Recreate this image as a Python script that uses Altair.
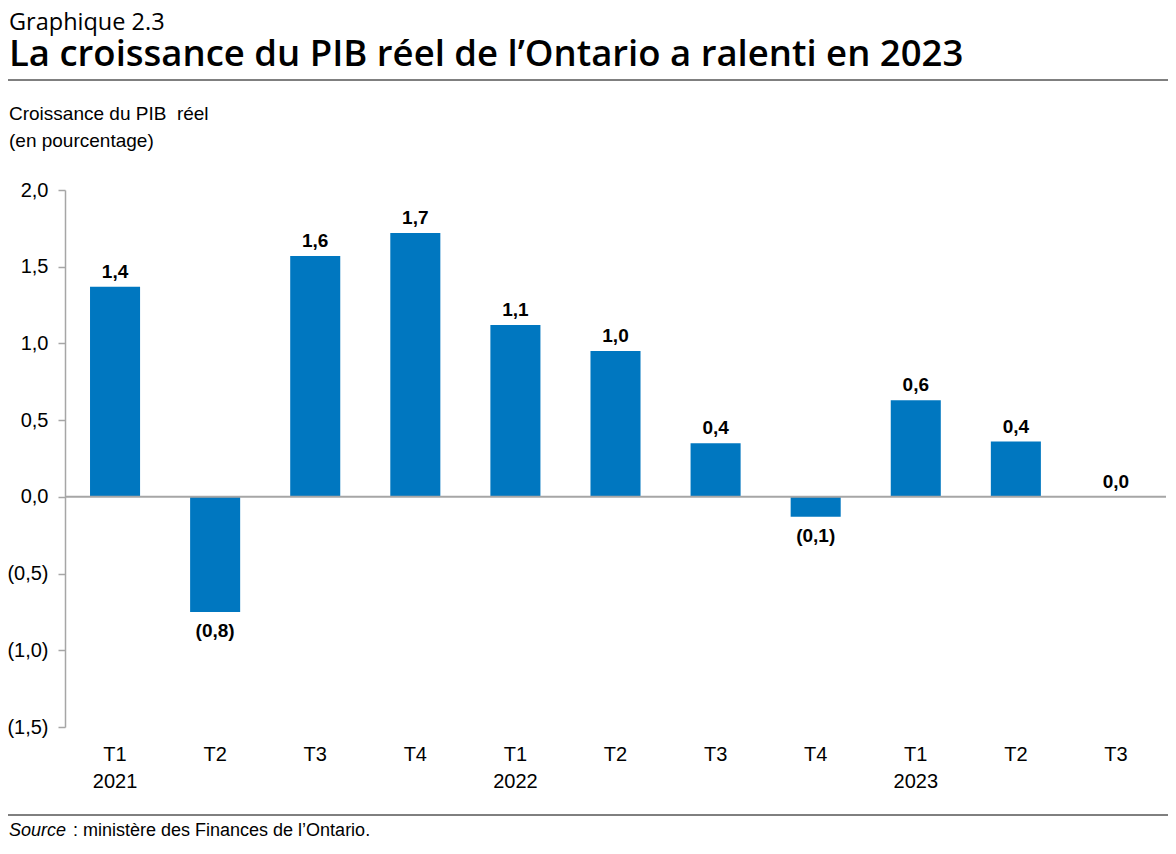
import altair as alt
import pandas as pd

quarters = ["T1", "T2", "T3", "T4", "T1", "T2", "T3", "T4", "T1", "T2", "T3"]
years = ["2021", "2021", "2021", "2021", "2022", "2022", "2022", "2022", "2023", "2023", "2023"]
values = [1.37, -0.75, 1.57, 1.72, 1.12, 0.95, 0.35, -0.13, 0.63, 0.36, 0.0]
labels = ["1,4", "(0,8)", "1,6", "1,7", "1,1", "1,0", "0,4", "(0,1)", "0,6", "0,4", "0,0"]

chart_label = "Graphique 2.3"
title_text = "La croissance du PIB réel de l’Ontario a ralenti en 2023"
y_title = ["Croissance du PIB\u00a0 réel", "(en pourcentage)"]
source_italic = "Source"
source_rest = ": ministère des Finances de l’Ontario."

df = pd.DataFrame({
    "key": [q + "|" + y for q, y in zip(quarters, years)],
    "value": values,
    "label": labels,
})

NARROW = "Liberation Sans Narrow, Arial Narrow, Liberation Sans, Arial, sans-serif"
TITLEF = "Open Sans, Lato, sans-serif"
GRAY = "#A6A6A6"
BLUE = "#0077C0"

x_enc = alt.X(
    "key:N", sort=None, title=None,
    scale=alt.Scale(paddingInner=0.5, paddingOuter=0.25),
    axis=alt.Axis(
        domain=False, ticks=False, labelAngle=0, labelPadding=17,
        labelFont=NARROW, labelFontSize=20, labelColor="#000000", labelLineHeight=27,
        labelExpr="indexof(datum.value, 'T1|') == 0 ? split(datum.value, '|') : split(datum.value, '|')[0]",
    ),
)
y_enc = alt.Y(
    "value:Q", title=None,
    scale=alt.Scale(domain=[-1.5, 2.0], nice=False, zero=False),
    axis=alt.Axis(
        values=[-1.5, -1.0, -0.5, 0.0, 0.5, 1.0, 1.5, 2.0], grid=False,
        domainColor=GRAY, domainWidth=1.5, tickColor=GRAY, tickWidth=1.5, tickSize=7,
        labelPadding=10, labelFont=NARROW, labelFontSize=20, labelColor="#000000",
        labelExpr="datum.value < 0 ? '(' + replace(format(-datum.value, '.1f'), '.', ',') + ')' : replace(format(datum.value, '.1f'), '.', ',')",
    ),
)

base = alt.Chart(df)
bars = base.mark_bar(color=BLUE).encode(x=x_enc, y=y_enc)
zero = alt.Chart(pd.DataFrame({"z": [0]})).mark_rule(color=GRAY, strokeWidth=2).encode(y=alt.Y("z:Q"))
pos_lbl = base.transform_filter("datum.value >= 0").mark_text(
    baseline="alphabetic", dy=-9, font=NARROW, fontSize=19, fontWeight="bold", color="#000000"
).encode(x=alt.X("key:N", sort=None), y="value:Q", text="label:N")
neg_lbl = base.transform_filter("datum.value < 0").mark_text(
    baseline="top", dy=10, font=NARROW, fontSize=19, fontWeight="bold", color="#000000"
).encode(x=alt.X("key:N", sort=None), y="value:Q", text="label:N")


def note(text, x, y, size, font, weight="normal", style="normal"):
    return alt.Chart(pd.DataFrame({"t": [text]})).mark_text(
        align="left", baseline="alphabetic", font=font, fontSize=size,
        fontWeight=weight, fontStyle=style, color="#000000",
    ).encode(x=alt.value(x), y=alt.value(y), text="t:N")


def hrule(y):
    return alt.Chart(pd.DataFrame({"r": [0]})).mark_rule(color="#000000", strokeWidth=1).encode(
        x=alt.value(-65), x2=alt.value(1111), y=alt.value(y)
    )


layers = [
    bars, zero, pos_lbl, neg_lbl,
    note(chart_label, -56, -160, 23.5, TITLEF),
    note(title_text, -56, -124, 36.5, TITLEF, weight=600),
    hrule(-110),
    note(y_title[0], -56, -70, 19, NARROW),
    note(y_title[1], -56, -43, 19, NARROW),
    hrule(625),
    note(source_italic, -56, 646, 18, NARROW, style="italic"),
    note(source_rest, 8, 646, 18, NARROW),
]

chart = alt.layer(*layers).properties(
    width=1101, height=537,
    autosize=alt.AutoSizeParams(type="none"),
    padding={"left": 57, "top": 182, "right": 2, "bottom": 114},
).configure_view(stroke=None)

chart.save("out.html", embed_options={"renderer": "svg", "actions": False})
